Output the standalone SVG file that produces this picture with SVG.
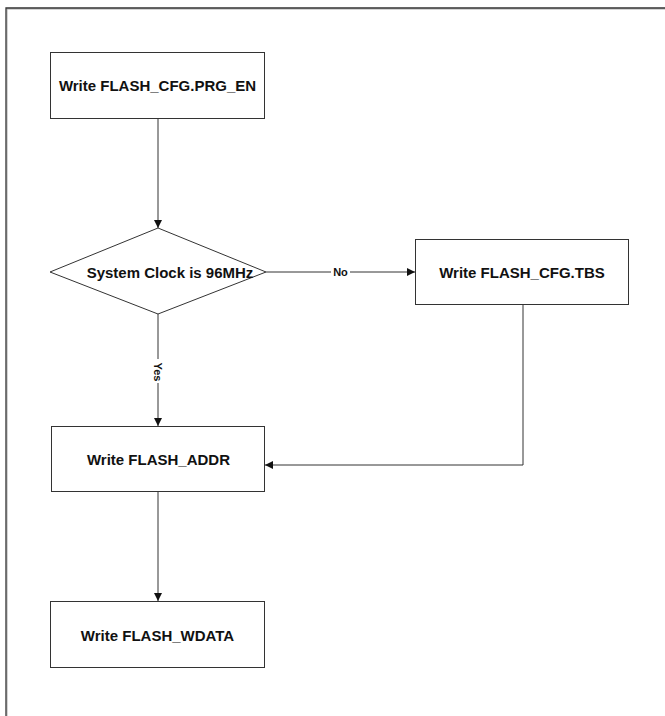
<svg xmlns="http://www.w3.org/2000/svg" width="665" height="716" viewBox="0 0 665 716">
<style>
.box{fill:#fff;stroke:#333;stroke-width:1}
.lbl{font-family:"Liberation Sans",Arial,sans-serif;font-weight:bold;font-size:15px;fill:#111;text-anchor:middle}
.small{font-family:"Liberation Sans",Arial,sans-serif;font-weight:bold;font-size:11px;fill:#111;text-anchor:middle}
.conn{fill:none;stroke:#333;stroke-width:1}
</style>
<defs>
<marker id="arr" viewBox="0 0 8 8" refX="8" refY="4" markerWidth="8" markerHeight="8" markerUnits="userSpaceOnUse" orient="auto">
<path d="M0,0 L8,4 L0,8 Z" fill="#111"/>
</marker>
</defs>
<rect width="665" height="716" fill="#fff"/>
<g id="frame">
<path d="M7,716 V9 H665" fill="none" stroke="#aaa" stroke-width="1"/>
<path d="M6,716 V8 H665" fill="none" stroke="#333" stroke-width="1.3"/>
</g>
<g id="connectors">
<line class="conn" x1="158" y1="118" x2="158" y2="228" marker-end="url(#arr)"/>
<line class="conn" x1="266" y1="272" x2="415" y2="272" marker-end="url(#arr)"/>
<line class="conn" x1="158" y1="314" x2="158" y2="426" marker-end="url(#arr)"/>
<polyline class="conn" points="523,304 523,465 265,465" marker-end="url(#arr)"/>
<line class="conn" x1="158" y1="491" x2="158" y2="601" marker-end="url(#arr)"/>
<rect x="331" y="265" width="19" height="13" fill="#fff"/>
<text class="small" x="340.5" y="276">No</text>
<rect x="152" y="359" width="12" height="24" fill="#fff"/>
<text class="small" transform="translate(154,372) rotate(90)" y="0" x="0">Yes</text>
</g>
<g id="n1">
<rect class="box" x="50.5" y="52.5" width="214" height="66"/>
<text class="lbl" x="157.5" y="91">Write FLASH_CFG.PRG_EN</text>
</g>
<g id="n2">
<polygon class="box" points="158,228 266,272 158,314 50,272"/>
<text class="lbl" x="170" y="278">System Clock is 96MHz</text>
</g>
<g id="n3">
<rect class="box" x="415.5" y="239.5" width="213" height="65"/>
<text class="lbl" x="522" y="278">Write FLASH_CFG.TBS</text>
</g>
<g id="n4">
<rect class="box" x="51.5" y="426.5" width="213" height="65"/>
<text class="lbl" x="158.5" y="465">Write FLASH_ADDR</text>
</g>
<g id="n5">
<rect class="box" x="50.5" y="601.5" width="214" height="66"/>
<text class="lbl" x="157.5" y="641">Write FLASH_WDATA</text>
</g>
</svg>
